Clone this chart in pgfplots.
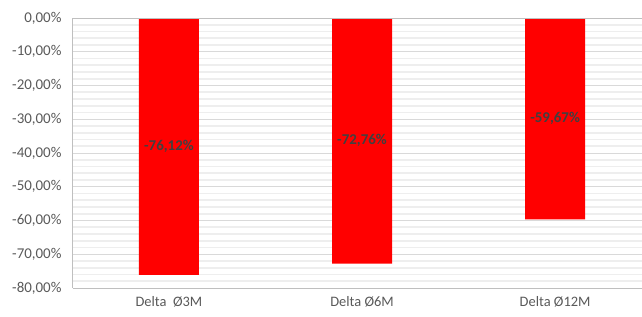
\documentclass[border=0pt]{standalone}
\usepackage{pgfplots}
\pgfplotsset{compat=1.18}
\usepackage{fontspec}
\setmainfont{Carlito}
\definecolor{ticktxt}{HTML}{595959}
\definecolor{lbltxt}{HTML}{404040}
\definecolor{majgrid}{HTML}{D9D9D9}
\definecolor{mingrid}{HTML}{EEEEEE}
\definecolor{axisgray}{HTML}{BFBFBF}
\begin{document}
\begin{tikzpicture}
\begin{axis}[
  at={(0,0)}, anchor=south west,
  scale only axis,
  width=569bp, height=270bp,
  xmin=-0.497, xmax=2.45,
  ymin=-80, ymax=0,
  ytick={-80,-70,...,0},
  minor y tick num=4,
  xtick={0,1,2},
  xticklabels={Delta\ \ Ø3M, Delta Ø6M, Delta Ø12M},
  ymajorgrids, yminorgrids,
  major grid style={draw=majgrid, line width=0.8bp},
  minor grid style={draw=mingrid, line width=1.8bp},
  axis lines*=left,
  axis line style={draw=axisgray, line width=1bp},
  major tick length=0pt, minor tick length=0pt,
  tick style={draw=none},
  /pgf/number format/assume math mode=true,
  yticklabel={\pgfmathprintnumber[fixed,fixed zerofill,precision=2,use comma]{\tick}\%},
  yticklabel style={font=\fontsize{15}{18}\selectfont, text=ticktxt, xshift=-8bp},
  xticklabel style={font=\fontsize{14.5}{17}\selectfont, text=ticktxt, yshift=-5bp},
  clip=false,
]
\addplot[ybar, bar width=60bp, fill=red, draw=none,
  point meta=y,
  visualization depends on={y \as \rawy},
  nodes near coords={\pgfmathprintnumber[fixed,fixed zerofill,precision=2,use comma]{\pgfplotspointmeta}\%},
  every node near coord/.append style={anchor=center, font=\fontsize{15}{18}\selectfont\bfseries, text=lbltxt, yshift={-\rawy*1.6875bp}},
] coordinates {(0,-76.12) (1,-72.76) (2,-59.67)};
\draw[axisgray, line width=1bp] (axis cs:-0.497,0) -- (axis cs:2.45,0);
\end{axis}
\pgfresetboundingbox
\path[use as bounding box] (-73bp,-29bp) rectangle (569bp,288bp);
\end{tikzpicture}
\end{document}
